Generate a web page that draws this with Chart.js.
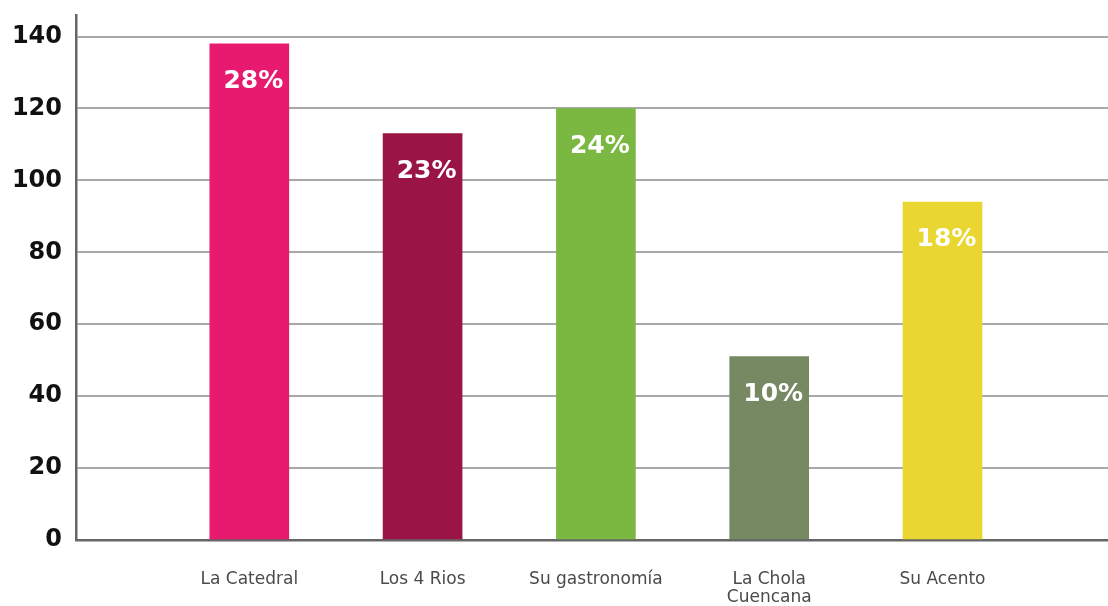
<!DOCTYPE html>
<html>
<head>
<meta charset="utf-8">
<script src="https://cdn.jsdelivr.net/npm/chart.js@4.4.1/dist/chart.umd.min.js"></script>
<style>
  html, body { margin: 0; padding: 0; background: #fff; }
  #wrap { width: 1108px; height: 606px; position: relative; }
</style>
</head>
<body>
<div id="wrap"><canvas id="chart"></canvas></div>
<script>
const categories = ['La Catedral', 'Los 4 Rios', 'Su gastronomía', ['La Chola', 'Cuencana'], 'Su Acento'];
const counts = [138, 113, 120, 51, 94];
const shares = ['28%', '23%', '24%', '10%', '18%'];
const barColors = ['#e81a70', '#9b1446', '#7ab841', '#778963', '#ead630'];
const yTicks = [0, 20, 40, 60, 80, 100, 120, 140];

// percentage text inside the top of each bar
const shareLabels = {
    id: 'shareLabels',
    afterDatasetsDraw(chart) {
        const ctx = chart.ctx;
        const meta = chart.getDatasetMeta(0);
        ctx.save();
        ctx.fillStyle = '#ffffff';
        ctx.font = 'bold 25px "DejaVu Sans"';
        ctx.textAlign = 'center';
        ctx.textBaseline = 'middle';
        meta.data.forEach((bar, i) => {
            ctx.fillText(shares[i], bar.x + 4, bar.y + 38);
        });
        ctx.restore();
    }
};

new Chart(document.getElementById('chart'), {
    type: 'bar',
    data: {
        datasets: [{
            data: counts.map((v, i) => ({x: i, y: v})),
            backgroundColor: barColors,
            barThickness: 79,
        }]
    },
    options: {
        responsive: true,
        maintainAspectRatio: false,
        animation: false,
        layout: {padding: {top: 15, right: 0, bottom: 0, left: 0}},
        plugins: {
            legend: {display: false},
            tooltip: {enabled: false},
        },
        scales: {
            x: {
                type: 'linear',
                offset: false,
                min: -1,
                max: 4.955,
                afterBuildTicks: (scale) => {
                    scale.ticks = categories.map((_, i) => ({value: i}));
                },
                afterFit: (scale) => {
                    scale.height = 66;
                    scale.paddingLeft = 0;
                    scale.paddingRight = 0;
                },
                grid: {display: false, drawTicks: false},
                border: {display: true, color: '#666666', width: 2.5},
                ticks: {
                    padding: 31,
                    color: '#4a4a4a',
                    font: {family: 'DejaVu Sans', size: 17, lineHeight: 1.06},
                    maxRotation: 0,
                    autoSkip: false,
                    callback: (v) => categories[v],
                },
            },
            y: {
                min: 0,
                max: 146,
                afterBuildTicks: (scale) => {
                    scale.ticks = yTicks.map(v => ({value: v}));
                },
                afterFit: (scale) => {
                    scale.width = 76;
                    scale.paddingTop = 0;
                    scale.paddingBottom = 0;
                },
                grid: {color: '#a8a8a8', lineWidth: 2, drawTicks: false},
                border: {display: true, color: '#666666', width: 2.5},
                ticks: {
                    padding: 14,
                    color: '#111111',
                    font: {family: 'DejaVu Sans', size: 24, weight: 'bold'},
                },
            },
        },
    },
    plugins: [shareLabels],
});
</script>
</body>
</html>
